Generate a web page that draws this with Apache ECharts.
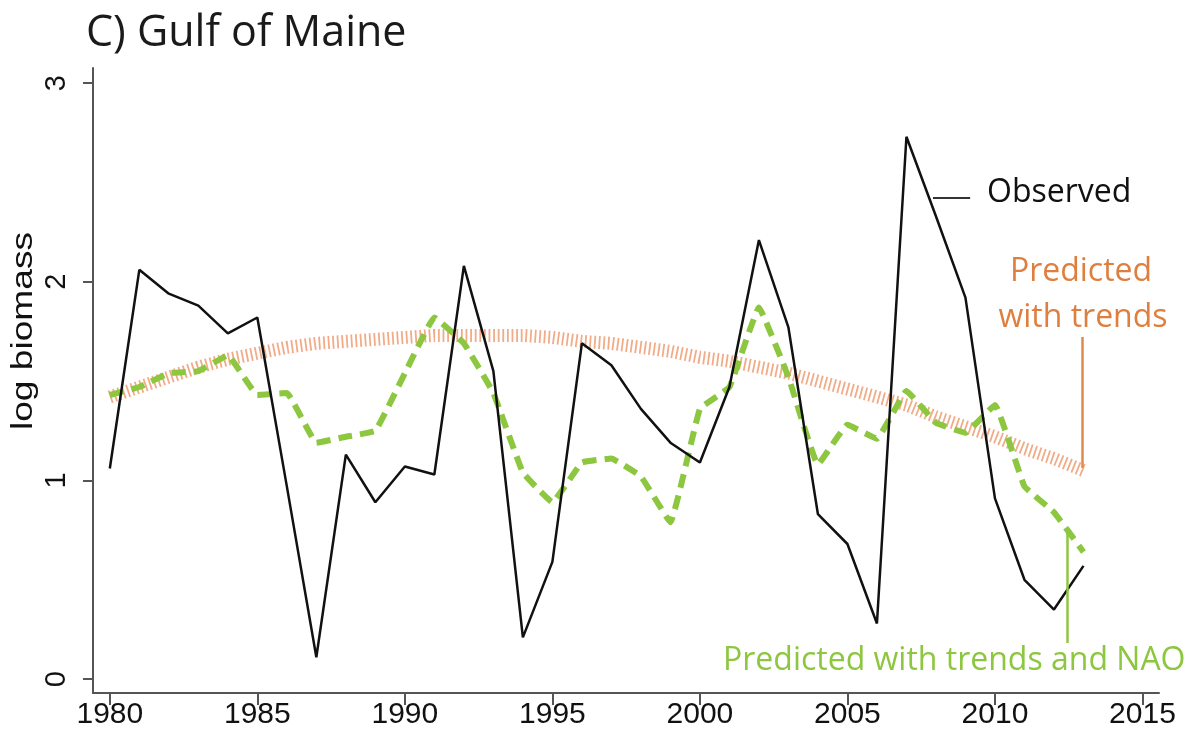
<!DOCTYPE html>
<html>
<head>
<meta charset="utf-8">
<script src="https://cdn.jsdelivr.net/npm/echarts@6/dist/echarts.min.js"></script>
<style>
html,body{margin:0;padding:0;background:#fff;}
#c{width:1199px;height:736px;}
</style>
</head>
<body>
<div id="c"></div>
<script>
const years = [1980,1981,1982,1983,1984,1985,1986,1987,1988,1989,1990,1991,1992,1993,1994,1995,1996,1997,1998,1999,2000,2001,2002,2003,2004,2005,2006,2007,2008,2009,2010,2011,2012,2013];
const observed = [1.06,2.06,1.94,1.88,1.74,1.82,0.97,0.11,1.13,0.89,1.07,1.03,2.08,1.55,0.21,0.59,1.69,1.58,1.36,1.19,1.09,1.47,2.21,1.77,0.83,0.68,0.28,2.73,2.33,1.92,0.91,0.50,0.35,0.57];
const predTrends = [1.42,1.47,1.52,1.57,1.61,1.64,1.67,1.69,1.70,1.71,1.72,1.73,1.73,1.73,1.73,1.72,1.70,1.69,1.67,1.65,1.62,1.60,1.57,1.54,1.50,1.46,1.42,1.38,1.32,1.27,1.22,1.16,1.11,1.05];
const predTrendsNAO = [1.43,1.47,1.54,1.55,1.63,1.43,1.44,1.19,1.22,1.25,1.54,1.82,1.69,1.44,1.04,0.89,1.09,1.11,1.02,0.79,1.36,1.47,1.87,1.52,1.08,1.28,1.21,1.45,1.29,1.24,1.38,0.97,0.84,0.64];
const xTicks = [1980,1985,1990,1995,2000,2005,2010,2015];
const yTicks = [0,1,2,3];
const titleText = 'C) Gulf of Maine';
const yName = 'log biomass';
const labelObserved = 'Observed';
const labelTrends = ['Predicted','with trends'];
const labelNAO = 'Predicted with trends and NAO';

const zip = (xs, ys) => xs.map((x, i) => [x, ys[i]]);

const chart = echarts.init(document.getElementById('c'), null, {renderer: 'canvas'});
const axisColor = '#555';
const ORANGE = '#de7f3f';
const GREEN = '#8dc63f';

chart.setOption({
  animation: false,
  backgroundColor: '#fff',
  grid: {left: 93, right: 40, top: 68, bottom: 43, containLabel: false, outerBoundsMode: 'none'},
  xAxis: {
    type: 'value', min: 1979.43, max: 2015.56,
    axisLine: {onZero: false, lineStyle: {color: axisColor, width: 2}},
    axisTick: {show: true, length: 12, customValues: xTicks, lineStyle: {color: axisColor, width: 2}},
    axisLabel: {customValues: xTicks, margin: 7, color: '#111', fontSize: 30,
      formatter: v => String(v),
      fontFamily: '"Liberation Sans", Arial, sans-serif'},
    splitLine: {show: false}
  },
  yAxis: {
    type: 'value', min: -0.07, max: 3.076,
    axisLine: {show: true, onZero: false, lineStyle: {color: axisColor, width: 2}},
    axisTick: {show: true, length: 10, customValues: yTicks, lineStyle: {color: axisColor, width: 2}},
    axisLabel: {customValues: yTicks, rotate: 90, margin: 22, color: '#111', fontSize: 29,
      formatter: v => String(v),
      fontFamily: '"Liberation Sans", Arial, sans-serif'},
    splitLine: {show: false}
  },
  series: [
    {
      name: 'Predicted with trends', type: 'line', data: zip(years, predTrends),
      showSymbol: false, smooth: false, z: 2,
      lineStyle: {color: 'rgba(238,150,105,0.8)', width: 13, type: [1.8, 2.8], cap: 'butt'},
      markLine: {
        silent: true, symbol: ['none','none'], label: {show: false},
        lineStyle: {color: '#e08a4a', width: 2.5, type: 'solid'},
        data: [[{coord: [2012.96, 1.722]}, {coord: [2012.96, 1.063]}]]
      }
    },
    {
      name: 'Predicted with trends and NAO', type: 'line', data: zip(years, predTrendsNAO),
      showSymbol: false, smooth: 0.08, z: 3,
      lineStyle: {color: GREEN, width: 6, type: [14, 8], cap: 'butt'},
      markLine: {
        silent: true, symbol: ['none','none'], label: {show: false},
        lineStyle: {color: GREEN, width: 2.5, type: 'solid'},
        data: [[{coord: [2012.45, 0.751]}, {coord: [2012.45, 0.182]}]]
      }
    },
    {
      name: 'Observed', type: 'line', data: zip(years, observed),
      showSymbol: false, smooth: false, z: 4,
      lineStyle: {color: '#111', width: 2.5},
      markLine: {
        silent: true, symbol: ['none','none'], label: {show: false},
        lineStyle: {color: '#333', width: 2, type: 'solid'},
        data: [[{coord: [2007.90, 2.422]}, {coord: [2009.16, 2.422]}]]
      }
    }
  ],
  graphic: [
    {type: 'text', left: 86, top: 12, style: {text: titleText, fill: '#1a1a1a',
      font: '43px "Open Sans", sans-serif'}},
    {type: 'text', x: 24, y: 331, rotation: Math.PI / 2, scaleX: 1.28,
      style: {text: yName, fill: '#111', font: '29px "Liberation Sans", Arial, sans-serif',
        align: 'center', verticalAlign: 'middle'}},
    {type: 'text', x: 987, y: 193, style: {text: labelObserved, fill: '#111',
      font: '32px "Open Sans", sans-serif', align: 'left', verticalAlign: 'middle'}},
    {type: 'text', x: 1081, y: 272, style: {text: labelTrends[0], fill: ORANGE,
      font: '32px "Open Sans", sans-serif', align: 'center', verticalAlign: 'middle'}},
    {type: 'text', x: 1083, y: 318, style: {text: labelTrends[1], fill: ORANGE,
      font: '32px "Open Sans", sans-serif', align: 'center', verticalAlign: 'middle'}},
    {type: 'text', x: 723, y: 661, style: {text: labelNAO, fill: GREEN,
      font: '32px "Open Sans", sans-serif', align: 'left', verticalAlign: 'middle'}}
  ]
});
</script>
</body>
</html>
